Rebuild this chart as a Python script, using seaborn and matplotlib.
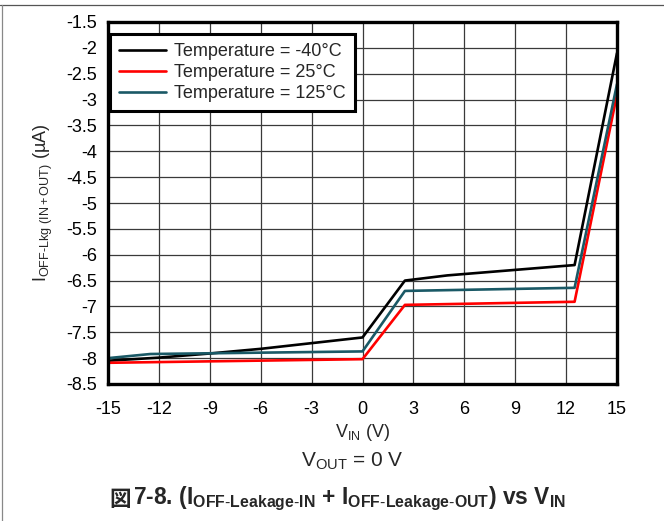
import matplotlib
matplotlib.use("Agg")
import matplotlib.pyplot as plt
import seaborn as sns
import pandas as pd
from matplotlib.lines import Line2D

sns.set_theme(style="white")
plt.rcParams['font.family'] = ['Liberation Sans', 'Noto Sans CJK JP', 'DejaVu Sans']
plt.rcParams['mathtext.fontset'] = 'custom'
plt.rcParams['mathtext.rm'] = 'Liberation Sans'
plt.rcParams['mathtext.it'] = 'Liberation Sans'
plt.rcParams['mathtext.bf'] = 'Liberation Sans:bold'

# Data
vin_m40 = [-15, -12, -9, -6, -3, 0, 2.5, 5, 12.5, 15]
i_m40 = [-8.05, -7.99, -7.91, -7.82, -7.71, -7.6, -6.5, -6.4, -6.2, -2.1]
vin_25 = [-15, 0, 2.5, 12.5, 15]
i_25 = [-8.09, -8.02, -6.97, -6.91, -2.9]
vin_125 = [-15, -12.5, 0, 2.5, 12.5, 15]
i_125 = [-8.0, -7.92, -7.87, -6.7, -6.64, -2.7]

labels = ["Temperature = -40\u00b0C", "Temperature = 25\u00b0C", "Temperature = 125\u00b0C"]
colors = ["#000000", "#ff0000", "#1a5966"]
xticks = [-15, -12, -9, -6, -3, 0, 3, 6, 9, 12, 15]
yticks = [-8.5, -8, -7.5, -7, -6.5, -6, -5.5, -5, -4.5, -4, -3.5, -3, -2.5, -2, -1.5]

df = pd.concat([
    pd.DataFrame({"V": vin_m40, "I": i_m40, "T": labels[0]}),
    pd.DataFrame({"V": vin_25, "I": i_25, "T": labels[1]}),
    pd.DataFrame({"V": vin_125, "I": i_125, "T": labels[2]}),
])

fig = plt.figure(figsize=(6.64, 5.21), dpi=100)
ax = fig.add_axes([108/664, 1-384/521, (617-108)/664, (384-22)/521])

sns.lineplot(data=df, x="V", y="I", hue="T", palette=dict(zip(labels, colors)),
             linewidth=1.9, sort=False, estimator=None, ax=ax, legend=False)

ax.set_xlim(-15, 15)
ax.set_ylim(-8.5, -1.5)
ax.set_xticks(xticks)
ax.set_yticks(yticks)
ax.set_xticklabels([str(t) for t in xticks])
ax.set_yticklabels([("%g" % t) for t in yticks])
ax.grid(True, color="#3a3a3a", linewidth=0.9)
ax.set_axisbelow(True)
for s in ax.spines.values():
    s.set_linewidth(2.4)
    s.set_color("black")
ax.tick_params(axis="x", labelsize=13, colors="black", length=0, pad=12)
ax.tick_params(axis="y", labelsize=13, colors="black", length=0, pad=8)

ax.set_xlabel(r"V$_{\mathrm{IN}}$ (V)", fontsize=13, labelpad=3)
ax.set_ylabel("I$_{\\mathrm{OFF\\text{-}Lkg\\ (IN+OUT)}}$ (\u00b5A)", fontsize=13, labelpad=8)

handles = [Line2D([0], [0], color=c, lw=1.9) for c in colors]
leg = ax.legend(handles, labels, loc="upper left", bbox_to_anchor=(0.004, 0.966),
                fontsize=13, frameon=True, fancybox=False, framealpha=1,
                edgecolor="black", handlelength=2.6, borderpad=0.5,
                labelspacing=0.22, handletextpad=0.45, borderaxespad=0.0)
leg.get_frame().set_linewidth(2.2)

fig.text(352/664, 1-461/521, r"V$_{\mathrm{OUT}}$ = 0 V", fontsize=15, ha="center", va="center")
fig.text(109/664, 1-499/521, "\u56f3", fontsize=15.5, fontweight="bold",
         family=['Noto Sans CJK JP'], ha="left", va="center")
fig.text(133/664, 1-499/521,
         "7-8. (I$_{\\mathbf{OFF\\text{-}Leakage\\text{-}IN}}$ + I$_{\\mathbf{OFF\\text{-}Leakage\\text{-}OUT}}$) vs V$_{\\mathbf{IN}}$",
         fontsize=16.4, fontweight="bold", ha="left", va="center")

fig.add_artist(Line2D([0, 1], [1-5/521, 1-5/521], color="#555555", lw=0.9, transform=fig.transFigure))
fig.add_artist(Line2D([1.5/664, 1.5/664], [0, 1-5/521], color="#888888", lw=0.9, transform=fig.transFigure))

fig.savefig("out.png", dpi=100)
